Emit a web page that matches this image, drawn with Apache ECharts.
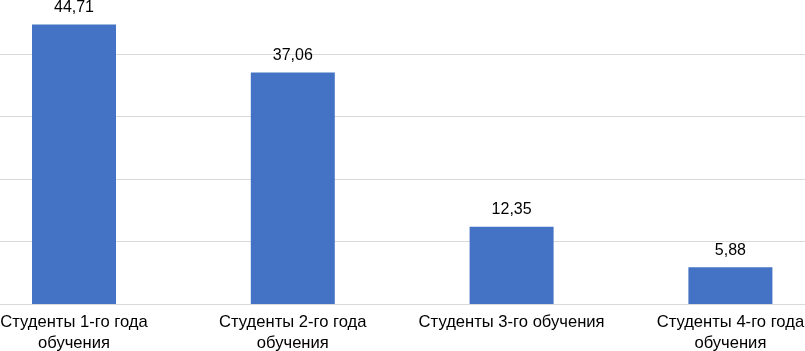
<!DOCTYPE html>
<html><head><meta charset="utf-8">
<script src="https://cdn.jsdelivr.net/npm/echarts@6/dist/echarts.min.js"></script>
<style>html,body{margin:0;padding:0;background:#fff}#c{width:805px;height:351px}</style>
</head><body><div id="c"></div>
<script>
const categories = ['Студенты 1-го года\nобучения', 'Студенты 2-го года\nобучения', 'Студенты 3-го обучения', 'Студенты 4-го года\nобучения'];
const values = [44.71, 37.06, 12.35, 5.88];

const chart = echarts.init(document.getElementById('c'), null, {renderer: 'canvas'});
chart.setOption({
  animation: false,
  backgroundColor: '#ffffff',
  grid: {left: -35.4, right: -34.8, top: -8.5, bottom: 47, containLabel: false, outerBoundsMode: 'none'},
  xAxis: {
    type: 'category',
    data: categories,
    axisLine: {show: true, lineStyle: {color: '#d9d9d9', width: 1}},
    axisTick: {show: false},
    axisLabel: {color: '#000', fontFamily: 'Liberation Sans, Arial', fontSize: 16.6, lineHeight: 21, margin: 8, interval: 0}
  },
  yAxis: {
    type: 'value', min: 0, max: 50, interval: 10,
    axisLabel: {show: false}, axisLine: {show: false}, axisTick: {show: false},
    splitLine: {lineStyle: {color: '#d9d9d9', width: 1}}
  },
  series: [{
    type: 'bar', data: values, barWidth: 84,
    itemStyle: {color: '#4472C4'},
    label: {show: true, position: 'top', distance: 9, color: '#000', fontFamily: 'Liberation Sans, Arial', fontSize: 16,
      formatter: p => p.value.toFixed(2).replace('.', ',')}
  }]
});
</script></body></html>
